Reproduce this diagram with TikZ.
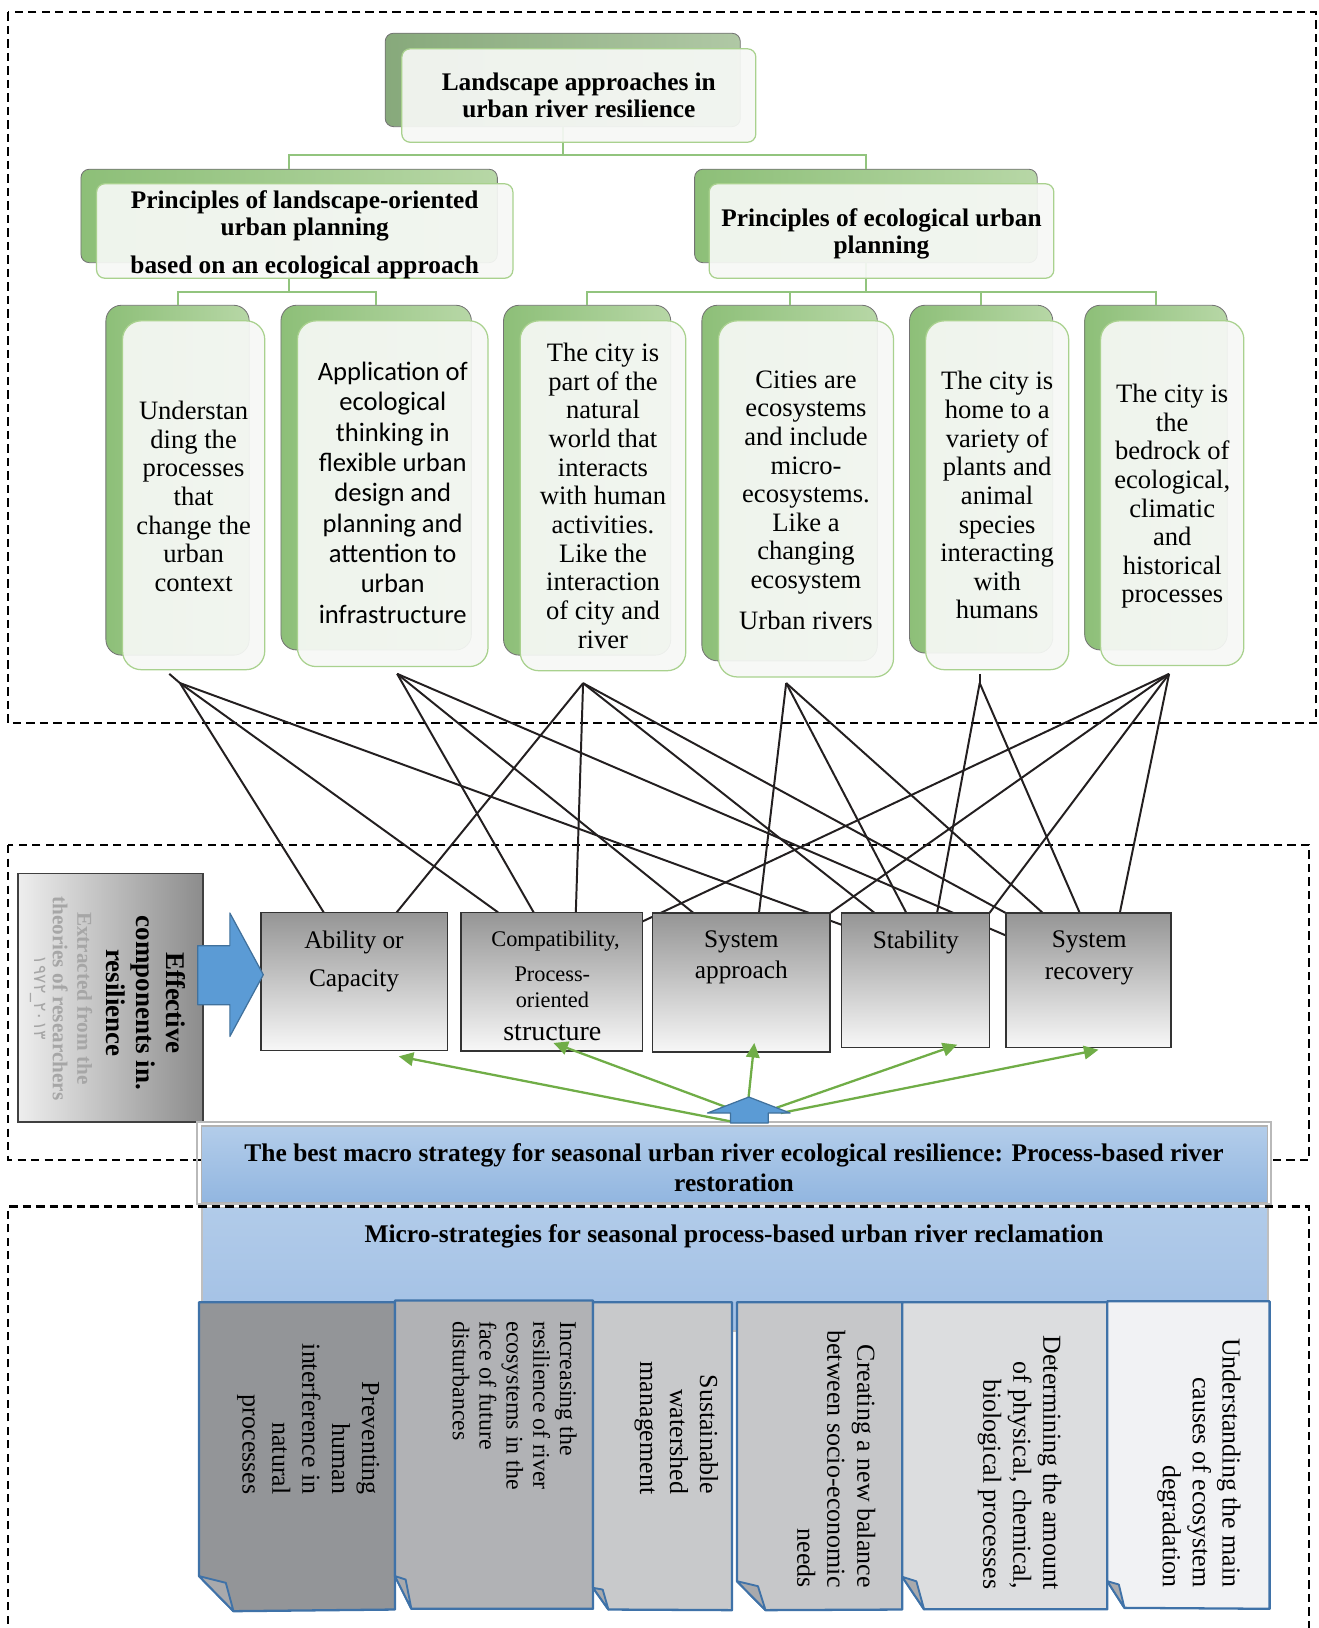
\documentclass[tikz,border=0pt]{standalone}
\usepackage{fontspec}
\setmainfont{Liberation Serif}
\newfontfamily\calibrifont{Carlito}
\newfontfamily\digitfont{DejaVu Sans}
\usetikzlibrary{arrows.meta,fit,calc}
\pgfdeclarelayer{background}
\pgfsetlayers{background,main}
\definecolor{leafdark}{HTML}{8DBF78}
\definecolor{leaflight}{HTML}{B7D7A6}
\definecolor{rootdark}{HTML}{87A97B}
\definecolor{rootlight}{HTML}{B0C8A5}
\definecolor{frontline}{HTML}{A9D18E}
\definecolor{frontfill}{HTML}{F6F8F5}
\definecolor{connG}{HTML}{92C47E}
\definecolor{arrowG}{HTML}{70AD47}
\definecolor{blueF}{HTML}{5B9BD5}
\definecolor{blueD}{HTML}{41719C}
\definecolor{bandTop}{HTML}{B3CDEA}
\definecolor{bandBot}{HTML}{92B6E0}
\definecolor{microTop}{HTML}{B1CBE9}
\definecolor{microBot}{HTML}{A2C0E5}
\definecolor{docLine}{HTML}{3F72A8}
\definecolor{dA}{HTML}{939598}
\definecolor{dB}{HTML}{B1B2B5}
\definecolor{dC}{HTML}{C8C9CB}
\definecolor{dD}{HTML}{C6C7C9}
\definecolor{dE}{HTML}{DCDDDF}
\definecolor{dF}{HTML}{F1F2F4}
\definecolor{foldC}{HTML}{A8A9AC}
\definecolor{lineK}{HTML}{231F20}
\definecolor{compTop}{HTML}{959595}
\definecolor{compBot}{HTML}{F7F7F7}
\definecolor{grayTxt}{HTML}{A6A6A6}
\definecolor{effL}{HTML}{EEEEEE}
\definecolor{effR}{HTML}{8C8C8C}
\begin{document}
\begin{tikzpicture}[x=1pt,y=-1pt,
  backL/.style={draw=black!55, line width=0.8pt, rounded corners=15pt, left color=leafdark, right color=leaflight, inner sep=0pt, outer sep=0pt},
  backT/.style={backL, rounded corners=8pt},
  backR/.style={backT, left color=rootdark, right color=rootlight},
  frontL/.style={draw=frontline, line width=1.2pt, fill=frontfill, fill opacity=0.93, rounded corners=18pt, inner sep=0pt, outer sep=0pt},
  frontT/.style={frontL, rounded corners=8pt},
  ltext/.style={align=center, inner sep=0pt, font=\fontsize{25.6}{27.6}\selectfont},
  ttext/.style={align=center, inner sep=0pt, font=\bfseries\fontsize{24.4}{26}\selectfont},
  conn/.style={draw=connG, line width=2pt},
  blk/.style={draw=lineK, line width=1.9pt},
  comp/.style={draw=black!80, line width=1.5pt, top color=compTop, bottom color=compBot, inner sep=0pt, outer sep=0pt},
  ctext/.style={font=\fontsize{24.4}{28}\selectfont, inner sep=0pt, anchor=base},
  garrow/.style={draw=arrowG, line width=2.2pt, -{Triangle[length=14pt,width=13pt]}},
  dashbox/.style={draw=black, line width=2pt, dash pattern=on 8pt off 5pt},
  docbox/.style={draw=docLine, line width=2.2pt, line join=round},
  fold/.style={draw=docLine, line width=1.8pt, fill=foldC, line join=round},
  doctext/.style={rotate=-90, inner sep=0pt, font=\fontsize{25}{28.8}\selectfont, align=right, anchor=east},
  bandtext/.style={font=\bfseries\fontsize{24.5}{29}\selectfont, align=center, inner sep=0pt}
]
\useasboundingbox (0,0) rectangle (1270,1568);

% ---------- hierarchy: back boxes ----------
\node[backR, fit={(371,32) (713,122)}] (rootB) {};
\node[backT, fit={(78,163) (479,253)}] (l2aB) {};
\node[backT, fit={(669,163) (999,253)}] (l2bB) {};
\node[backL, fit={(102,294) (240,631)}] (f1B) {};
\node[backL, fit={(270.6,294) (454,626)}] (f2B) {};
\node[backL, fit={(485,294) (646,631)}] (f3B) {};
\node[backL, fit={(676,294) (845,636.5)}] (f4B) {};
\node[backL, fit={(876,294) (1014,629)}] (f5B) {};
\node[backL, fit={(1044.7,294) (1182,626)}] (f6B) {};

% ---------- connectors ----------
\coordinate (j0) at (541,149);
\coordinate (j1) at (0,281.5);
\draw[conn] (rootB.south) -- (rootB.south |- j0) -| (l2aB.north);
\draw[conn] (rootB.south |- j0) -| (l2bB.north);
\draw[conn] (l2aB.south) -- (l2aB.south |- j1) -| (f1B.north);
\draw[conn] (l2aB.south |- j1) -| (f2B.north);
\draw[conn] (l2bB.south) -- (l2bB.south |- j1) -| (f3B.north);
\draw[conn] (l2bB.south |- j1) -| (f4B.north);
\draw[conn] (l2bB.south |- j1) -| (f5B.north);
\draw[conn] (l2bB.south |- j1) -| (f6B.north);

% ---------- front boxes ----------
\node[frontT, fit={(387,47) (728,137)}] (root) {};
\node[frontT, fit={(93,177) (494,268)}] (l2a) {};
\node[frontT, fit={(683,177) (1015,268)}] (l2b) {};
\node[frontL, fit={(118,309) (255,645)}] (f1) {};
\node[frontL, fit={(286.5,309) (470,642)}] (f2) {};
\node[frontL, fit={(501,309) (660.5,646)}] (f3) {};
\node[frontL, fit={(692,309) (860.6,652)}] (f4) {};
\node[frontL, fit={(891.5,309) (1029.3,645)}] (f5) {};
\node[frontL, fit={(1060,309) (1198,641)}] (f6) {};

\node[ttext] (rootT) at (root.center) {Landscape approaches in\\urban river resilience};
\node[ttext] (l2aT) at ([yshift=-4pt]l2a.center) {Principles of landscape-oriented\\urban planning\\[11pt]based on an ecological approach};
\node[ttext] (l2bT) at ([yshift=-3pt]l2b.center) {Principles of ecological urban\\planning};
\node[ltext] (f1T) at ([yshift=-1pt]f1.center) {Understan\\ding the\\processes\\that\\change the\\urban\\context};
\node[ltext, font=\calibrifont\fontsize{25.6}{29.25}\selectfont] (f2T) at ([yshift=1pt]f2.center) {Application of\\ecological\\thinking in\\flexible urban\\design and\\planning and\\attention to\\urban\\infrastructure};
\node[ltext] (f3T) at (f3.center) {The city is\\part of the\\natural\\world that\\interacts\\with human\\activities.\\Like the\\interaction\\of city and\\river};
\node[ltext] (f4T) at ([yshift=-1pt]f4.center) {Cities are\\ecosystems\\and include\\micro-\\ecosystems.\\Like a\\changing\\ecosystem\\[11.4pt]Urban rivers};
\node[ltext] (f5T) at (f5.center) {The city is\\home to a\\variety of\\plants and\\animal\\species\\interacting\\with\\humans};
\node[ltext] (f6T) at ([yshift=-3pt]f6.center) {The city is\\the\\bedrock of\\ecological,\\climatic\\and\\historical\\processes};

% ---------- component boxes ----------
\node[comp, fit={(251.5,878.8) (431.2,1011.6)}] (abil) {};
\node[comp, fit={(444,878.8) (619,1012)}] (compat) {};
\node[comp, fit={(628.4,879.4) (799.4,1013.2)}] (sysapp) {};
\node[comp, fit={(810.3,879.4) (952.9,1008.7)}] (stab) {};
\node[comp, fit={(968.8,879.4) (1127.8,1008.7)}] (recov) {};

\node[ctext] (abilT1) at (341,914) {Ability or};
\node[ctext] (abilT2) at (341,950) {Capacity};
\node[ctext, font=\fontsize{21.5}{24}\selectfont] (compT1) at (535,911.4) {Compatibility,};
\node[ctext, font=\fontsize{21.5}{24}\selectfont] (compT2) at (532,945.5) {Process-};
\node[ctext, font=\fontsize{21.5}{24}\selectfont] (compT3) at (532,970.4) {oriented};
\node[ctext, font=\fontsize{27}{30}\selectfont] (compT4) at (532,1001.8) {structure};
\node[ctext] (sysT1) at (714,913) {System};
\node[ctext] (sysT2) at (714,942) {approach};
\node[ctext] (stabT) at (882,914) {Stability};
\node[ctext] (recT1) at (1049,913) {System};
\node[ctext] (recT2) at (1049,943) {recovery};

% ---------- origins of the black lines ----------
\coordinate (P1t) at (163,649);
\coordinate (P1) at (173.3,657.9);
\coordinate (P2) at (382.5,649);
\coordinate (P3) at (561.6,658);
\coordinate (P4) at (757.2,657.9);
\coordinate (P5t) at (943.6,649);
\coordinate (P5) at (943.6,657.9);
\coordinate (P6) at (1126,649);

\begin{pgfonlayer}{background}
\draw[dashbox] (8,12) rectangle (1267.5,696.5);
\draw[dashbox] (8,814) rectangle (1261,1117);
\draw[blk] (P1t) -- (P1);
\draw[blk] (P5t) -- (P5);
\draw[blk] (P1) -- ([xshift=60.3pt]abil.north west);
\draw[blk] (P1) -- ([xshift=35.8pt]compat.north west);
\draw[blk] (P1) -- ([yshift=-11.2pt]stab.north west);
\draw[blk] (P2) -- ([xshift=70pt]compat.north west);
\draw[blk] (P2) -- ([xshift=39.6pt]sysapp.north west);
\draw[blk] (P2) -- ([yshift=-21.6pt]recov.north west);
\draw[blk] (P3) -- ([xshift=130.5pt]abil.north west);
\draw[blk] (P3) -- ([xshift=110.6pt]compat.north west);
\draw[blk] (P3) -- ([xshift=32.2pt]stab.north west);
\draw[blk] (P3) -- (recov.north west);
\draw[blk] (P4) -- ([xshift=102.6pt]sysapp.north west);
\draw[blk] (P4) -- ([xshift=62.7pt]stab.north west);
\draw[blk] (P4) -- ([xshift=35.7pt]recov.north west);
\draw[blk] (P5) -- ([xshift=92.2pt]stab.north west);
\draw[blk] (P5) -- ([xshift=71.2pt]recov.north west);
\draw[blk] (P6) -- ([yshift=-8.6pt]compat.north east);
\draw[blk] (P6) -- (sysapp.north east);
\draw[blk] (P6) -- (stab.north east);
\draw[blk] (P6) -- ([xshift=109.7pt]recov.north west);
\end{pgfonlayer}

% ---------- left box and blue arrow ----------
\node[fit={(17.2,841.5) (195.5,1080.6)}, draw=black!75, line width=1.5pt, left color=effL, right color=effR, inner sep=0pt, outer sep=0pt] (effbox) {};
\node[rotate=-90, align=center, inner sep=0pt, font=\bfseries\fontsize{26}{29}\selectfont] (effT) at (140.75,966) {Effective\\components in.\\resilience};
\node[rotate=-90, align=center, inner sep=0pt, text=grayTxt, font=\bfseries\fontsize{20.4}{23.7}\selectfont] (srcT) at (69.85,961.5) {Extracted from the\\theories of researchers};
\node[rotate=-90, inner sep=0pt, text=grayTxt, font=\digitfont\fontsize{17}{20}\selectfont] (yearT) at (36.5,961.3) {۱۹۷۲\_۲۰۱۳};
\draw[draw=blueD, fill=blueF, line width=1.2pt, line join=round] (190.4,910.8) -- (221.4,910.8) -- (221.4,879.4) -- (253.6,938.8) -- (221.4,998.2) -- (221.4,967.6) -- (190.4,967.6) -- cycle;

% ---------- bands ----------
\draw[gray!55, line width=2pt] (190,1081) rectangle (1224.5,1160);
\node[fit={(194,1084.5) (1220.5,1158)}, top color=bandTop, bottom color=bandBot, draw=gray!60, line width=1pt, inner sep=0pt, outer sep=0pt] (macro) {};
\node[bandtext] (macroT) at (707,1124.5) {The best macro strategy for seasonal urban river ecological resilience: Process-based river\\restoration};
\node[fit={(194.5,1163) (1221.5,1282)}, top color=microTop, bottom color=microBot, draw=gray!50, line width=1.5pt, inner sep=0pt, outer sep=0pt] (micro) {};
\node[bandtext] (microT) at (707,1191) {Micro-strategies for seasonal process-based urban river reclamation};
\draw[dashbox] (8,1590) -- (8,1162) -- (1261,1162) -- (1261,1590);

% ---------- document boxes ----------
\draw[docbox, fill=dA] (191.7,1254.3) -- (380.4,1254.3) -- (380.4,1550.2) -- (224.9,1551.8) -- (191.7,1518) -- cycle;
\draw[fold] (191.7,1518) -- (217.5,1524.5) -- (224.9,1551.8) -- cycle;
\draw[docbox, fill=dB] (380.4,1252.6) -- (571.2,1252.6) -- (571.2,1549.5) -- (396.2,1549.5) -- (380.4,1518) -- cycle;
\draw[fold] (380.4,1518) -- (390.7,1521.3) -- (396.2,1549.5) -- cycle;
\draw[docbox, fill=dC] (571.2,1254.3) -- (705,1254.3) -- (705,1550.8) -- (586,1550.2) -- (571.2,1529.3) -- cycle;
\draw[fold] (571.2,1529.3) -- (580.5,1531) -- (586,1550.2) -- cycle;
\draw[docbox, fill=dD] (709.8,1254.3) -- (869,1254.3) -- (869,1550.2) -- (737.3,1550.8) -- (709.8,1522.9) -- cycle;
\draw[fold] (709.8,1522.9) -- (730,1527.7) -- (737.3,1550.8) -- cycle;
\draw[docbox, fill=dE] (869,1254.3) -- (1066.5,1254.3) -- (1066.5,1550) -- (890,1550) -- (869,1518.7) -- cycle;
\draw[fold] (869,1518.7) -- (882.6,1523) -- (890,1550) -- cycle;
\draw[docbox, fill=dF] (1066.5,1253.3) -- (1222.8,1253.3) -- (1222.8,1549.5) -- (1083,1548.6) -- (1066.5,1522.9) -- cycle;
\draw[fold] (1066.5,1522.9) -- (1077.6,1526.1) -- (1083,1548.6) -- cycle;

\node[doctext] (d1) at (296.8,1439.5) {Preventing\\human\\interference in\\natural\\processes};
\node[doctext, align=left, anchor=west, font=\fontsize{23}{25.8}\selectfont] (d2) at (495.7,1272.5) {Increasing the\\resilience of river\\ecosystems in the\\face of future\\disturbances};
\node[doctext] (d3) at (651.4,1439.5) {Sustainable\\watershed\\management};
\node[doctext] (d4) at (805.4,1529.3) {Creating a new balance\\between socio-economic\\needs};
\node[doctext] (d5) at (982,1530.9) {Determining the amount\\of physical, chemical,\\biological processes};
\node[doctext] (d6) at (1154.8,1529.3) {Understanding the main\\causes of ecosystem\\degradation};

% ---------- green arrows and up arrow ----------
\coordinate (Gab) at (703.5,1080);
\coordinate (Gco) at (705.8,1068.7);
\coordinate (Gsa) at (721,1056.6);
\coordinate (Gst) at (747.6,1067);
\coordinate (Gre) at (752,1072);
\draw[garrow] (Gab) -- ([xshift=132.5pt,yshift=-5.8pt]abil.south west);
\draw[garrow] (Gco) -- ([xshift=89pt,yshift=7.5pt]compat.south west);
\draw[garrow] (Gsa) -- ([xshift=98.1pt,yshift=8.7pt]sysapp.south west);
\draw[garrow] (Gst) -- ([xshift=111.7pt,yshift=2.5pt]stab.south west);
\draw[garrow] (Gre) -- ([xshift=89.2pt,yshift=-2.3pt]recov.south west);
\draw[draw=blueD, fill=blueF, line width=1.2pt, line join=round] (703.5,1081.6) -- (703.5,1072) -- (681.4,1072) -- (721.2,1056.6) -- (761,1072) -- (740,1072) -- (740,1081.6) -- cycle;
\end{tikzpicture}
\end{document}
